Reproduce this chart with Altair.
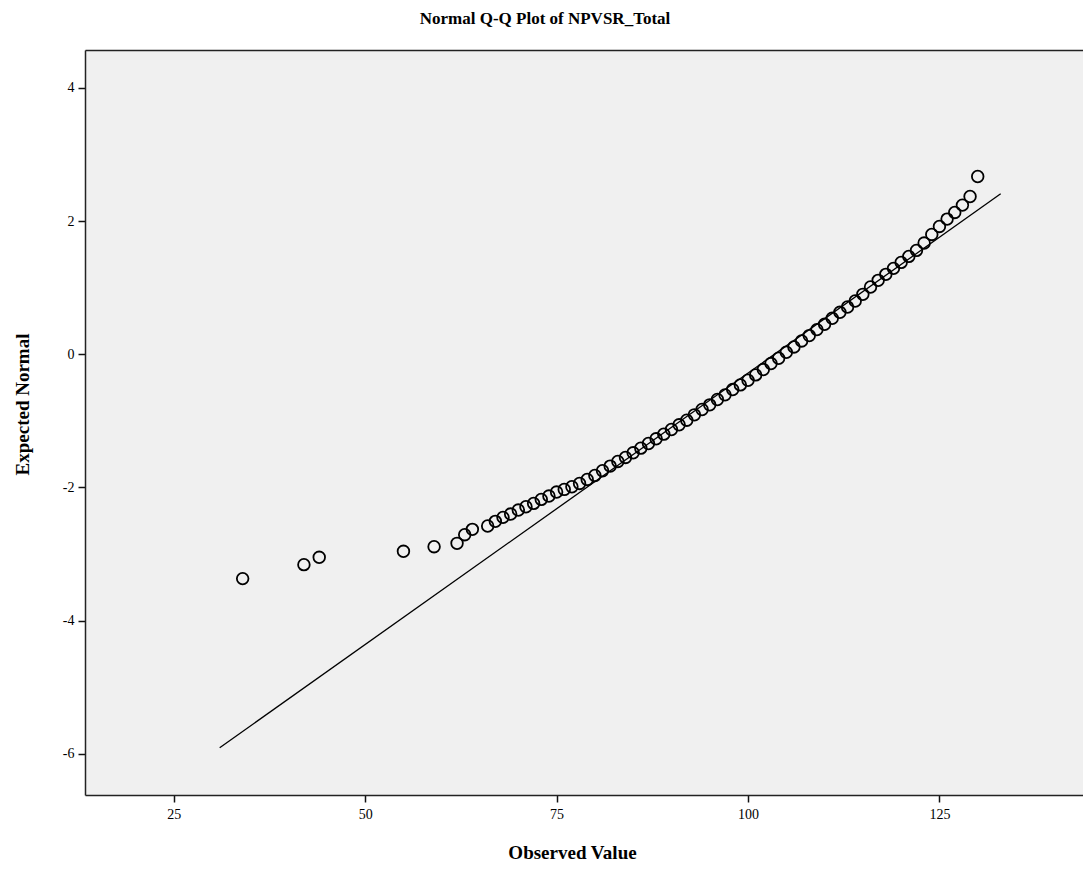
import altair as alt
import pandas as pd

observed = [34, 42, 44, 55, 59, 62, 63, 64] + list(range(66, 131))
expected = [
    -3.37, -3.16, -3.05, -2.96, -2.89, -2.84, -2.71, -2.63,
    -2.58, -2.51, -2.45, -2.40, -2.34, -2.29, -2.24, -2.18, -2.13, -2.07,
    -2.03, -1.99, -1.94, -1.88, -1.82, -1.75, -1.68, -1.61, -1.55, -1.48,
    -1.41, -1.34, -1.27, -1.20, -1.13, -1.06, -0.99, -0.91, -0.83, -0.76,
    -0.68, -0.61, -0.53, -0.46, -0.39, -0.31, -0.23, -0.14, -0.06, 0.03,
    0.11, 0.20, 0.28, 0.37, 0.45, 0.54, 0.63, 0.71, 0.80, 0.90,
    1.01, 1.11, 1.20, 1.29, 1.38, 1.47, 1.56, 1.67, 1.80, 1.92,
    2.03, 2.13, 2.24, 2.37, 2.67,
]

# Reference line end points
line_x = [31, 133]
line_y = [-5.91, 2.41]

x_ticks = [25, 50, 75, 100, 125]
y_ticks = [-6, -4, -2, 0, 2, 4]

pts = pd.DataFrame({"obs": observed, "exp": expected})
ln = pd.DataFrame({"obs": line_x, "exp": line_y})

SERIF = "Liberation Serif"

xscale = alt.Scale(domain=[13.41, 143.75], nice=False, zero=False)
yscale = alt.Scale(domain=[-6.62, 4.57], nice=False, zero=False)

x_axis = alt.Axis(
    values=x_ticks, title="Observed Value", grid=False,
    labelExpr="toString(datum.value)",
    domainColor="#222", domainWidth=1.5, tickColor="#111", tickSize=7, tickWidth=1.5,
    labelFont=SERIF, labelFontSize=14, labelColor="black", labelPadding=5,
    titleFont=SERIF, titleFontSize=19, titleFontWeight="bold", titleColor="black",
    titleX=487, titleY=57, titleAlign="center", titleBaseline="middle",
)
y_axis = alt.Axis(
    values=y_ticks, title="Expected Normal", grid=False,
    labelExpr="toString(datum.value)",
    domainColor="#222", domainWidth=1.5, tickColor="#111", tickSize=7, tickWidth=1.5,
    labelFont=SERIF, labelFontSize=14, labelColor="black", labelPadding=4,
    titleFont=SERIF, titleFontSize=19, titleFontWeight="bold", titleColor="black",
    titleX=-63, titleY=354, titleAlign="center", titleBaseline="middle",
)
top_axis = alt.Axis(
    orient="top", labels=False, ticks=False, title=None, grid=False,
    domainColor="#222", domainWidth=1.5,
)

points = alt.Chart(pts).mark_point(
    shape="circle", filled=False, size=135, strokeWidth=1.8, color="black", opacity=1
).encode(
    x=alt.X("obs:Q", scale=xscale, axis=x_axis),
    y=alt.Y("exp:Q", scale=yscale, axis=y_axis),
)

line = alt.Chart(ln).mark_line(color="black", strokeWidth=1.3).encode(
    x=alt.X("obs:Q", scale=xscale, axis=top_axis),
    y=alt.Y("exp:Q", scale=yscale, axis=y_axis),
)

chart = (
    alt.layer(line, points)
    .resolve_axis(x="independent")
    .properties(
        width=998,
        height=745,
        autosize=alt.AutoSizeParams(type="none"),
        padding={"left": 77, "top": 42, "right": 0, "bottom": 66},
        title=alt.Title(
            "Normal Q-Q Plot of NPVSR_Total",
            font=SERIF, fontSize=17, fontWeight="bold", color="black",
            anchor="middle", dx=-39, offset=22,
        ),
        background="white",
    )
    .configure_view(fill="#f0f0f0", stroke=None)
)

chart.save("out.html", embed_options={"renderer": "svg", "actions": False})
